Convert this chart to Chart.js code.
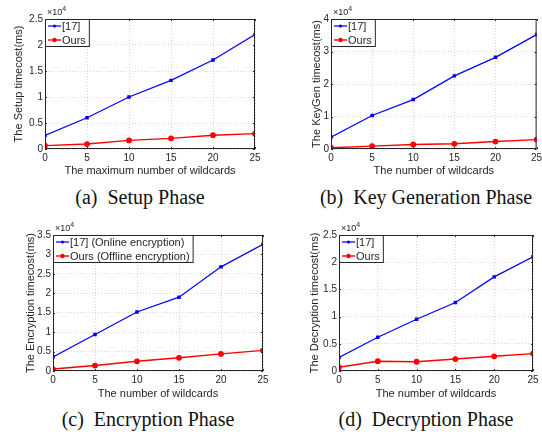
<!DOCTYPE html>
<html>
<head>
<meta charset="utf-8">
<script src="https://cdn.jsdelivr.net/npm/chart.js@4.4.1/dist/chart.umd.min.js"></script>
<style>
  body { margin: 0; background: #fff; width: 542px; height: 432px; position: relative; overflow: hidden; }
  canvas { position: absolute; }
  .cap { position: absolute; font-family: "Liberation Serif", "Times New Roman", serif; font-size: 20px; color: #111; white-space: nowrap; transform: translateX(-50%); }
</style>
</head>
<body>
<canvas id="setup-chart" style="left:0;top:0" width="271" height="185"></canvas>
<canvas id="keygen-chart" style="left:271px;top:0" width="271" height="185"></canvas>
<canvas id="enc-chart" style="left:0;top:216px" width="271" height="185"></canvas>
<canvas id="dec-chart" style="left:271px;top:216px" width="271" height="185"></canvas>
<div class="cap" style="left:140px;top:186px">(a)&nbsp; Setup Phase</div>
<div class="cap" style="left:426px;top:186px">(b)&nbsp; Key Generation Phase</div>
<div class="cap" style="left:148px;top:408px">(c)&nbsp; Encryption Phase</div>
<div class="cap" style="left:426px;top:408px">(d)&nbsp; Decryption Phase</div>
<script>
// wildcards on the x axis
const wildcards = [0, 5, 10, 15, 20, 25];

// time costs (ms)
const setupRef = [2600, 6000, 10000, 13200, 17100, 22000];
const setupOurs = [650, 950, 1650, 2050, 2650, 2950];
const keygenRef = [3600, 10300, 15200, 22500, 28200, 35200];
const keygenOurs = [400, 900, 1400, 1600, 2300, 2900];
const encRef = [3600, 9400, 15200, 19000, 26800, 32600];
const encOurs = [500, 1400, 2500, 3400, 4400, 5300];
const decRef = [2500, 6200, 9500, 12600, 17300, 21000];
const decOurs = [700, 1800, 1700, 2200, 2700, 3200];

const textColor = "#262626";
const gridColor = "rgba(235,150,175,0.5)";

const toPoints = (vals) => vals.map((v, i) => ({ x: wildcards[i], y: v }));

// box around plot + inward ticks (matlab style)
const boxPlugin = {
  id: "box",
  afterDatasetsDraw(chart) {
    const { ctx, chartArea: a, scales } = chart;
    ctx.save();
    ctx.strokeStyle = "#262626";
    ctx.lineWidth = 1;
    ctx.strokeRect(a.left + 0.5, a.top + 0.5, a.right - a.left - 1, a.bottom - a.top - 1);
    scales.x.ticks.forEach((t) => {
      const px = Math.round(scales.x.getPixelForValue(t.value)) + 0.5;
      ctx.beginPath();
      ctx.moveTo(px, a.bottom); ctx.lineTo(px, a.bottom - 2);
      ctx.moveTo(px, a.top); ctx.lineTo(px, a.top + 2);
      ctx.stroke();
    });
    scales.y.ticks.forEach((t) => {
      const py = Math.round(scales.y.getPixelForValue(t.value)) + 0.5;
      ctx.beginPath();
      ctx.moveTo(a.left, py); ctx.lineTo(a.left + 2, py);
      ctx.moveTo(a.right, py); ctx.lineTo(a.right - 2, py);
      ctx.stroke();
    });
    // x10^4 exponent label
    ctx.fillStyle = textColor;
    ctx.font = "9px 'Liberation Sans', Arial, sans-serif";
    ctx.textBaseline = "alphabetic";
    ctx.fillText("\u00d710", a.left + 2, a.top - 4);
    const w = ctx.measureText("\u00d710").width;
    ctx.font = "7px 'Liberation Sans', Arial, sans-serif";
    ctx.fillText("4", a.left + 2 + w, a.top - 8);
    ctx.restore();
  },
};

// legend box in top-left corner of the plot
const legendBoxPlugin = {
  id: "legendBox",
  afterDraw(chart) {
    const { ctx, chartArea: a } = chart;
    const sets = chart.data.datasets;
    ctx.save();
    ctx.font = "11px 'Liberation Sans', Arial, sans-serif";
    const textW = Math.max(...sets.map((d) => ctx.measureText(d.label).width));
    const rowH = 13.5;
    const w = 17 + textW + 3;
    const h = 27;
    const x = a.left, y = a.top;
    ctx.fillStyle = "#fff";
    ctx.fillRect(x, y, w, h);
    ctx.strokeStyle = "#262626";
    ctx.lineWidth = 1;
    ctx.strokeRect(x + 0.5, y + 0.5, w, h);
    sets.forEach((d, i) => {
      const cy = Math.round(y + 7 + i * rowH);
      ctx.strokeStyle = d.borderColor;
      ctx.lineWidth = d.borderWidth;
      ctx.beginPath();
      ctx.moveTo(x + 3, cy); ctx.lineTo(x + 16, cy);
      ctx.stroke();
      ctx.fillStyle = d.borderColor;
      ctx.beginPath();
      ctx.arc(x + 9.5, cy, d.pointRadius, 0, Math.PI * 2);
      ctx.fill();
      ctx.fillStyle = textColor;
      ctx.textBaseline = "middle";
      ctx.fillText(d.label, x + 17, cy + 0.5);
    });
    ctx.restore();
  },
};

function makeChart(id, opts) {
  new Chart(document.getElementById(id), {
    type: "line",
    data: {
      datasets: [
        {
          label: opts.refLabel,
          data: toPoints(opts.ref),
          borderColor: "#0000ff",
          backgroundColor: "#0000ff",
          borderWidth: 1.2,
          pointRadius: 1.6,
          pointStyle: "rect",
        },
        {
          label: opts.oursLabel,
          data: toPoints(opts.ours),
          borderColor: "#ff0000",
          backgroundColor: "#ff0000",
          borderWidth: 1.4,
          pointRadius: 2.2,
        },
      ],
    },
    options: {
      responsive: false,
      animation: false,
      layout: { padding: { top: 19, right: opts.padRight, left: opts.padLeft, bottom: opts.padBottom } },
      plugins: { legend: { display: false }, tooltip: { enabled: false } },
      scales: {
        x: {
          type: "linear",
          min: 0,
          max: 25,
          ticks: { stepSize: 5, color: textColor, font: { size: 10, family: "'Liberation Sans', Arial" }, padding: 3, maxRotation: 0 },
          grid: { color: gridColor, drawTicks: false },
          border: { dash: [1, 2], display: false },
          title: { display: true, text: opts.xTitle, color: textColor, font: { size: 11, family: "'Liberation Sans', Arial" }, padding: { top: 0, bottom: 0 } },
          afterFit(scale) {
            scale.height = opts.xHeight;
            scale.paddingLeft = 0;
            scale.paddingRight = 0;
          },
        },
        y: {
          min: 0,
          max: opts.yMax,
          ticks: { stepSize: opts.yStep, color: textColor, font: { size: 10, family: "'Liberation Sans', Arial" }, padding: 2, callback: (v) => v / 10000 },
          grid: { color: gridColor, drawTicks: false },
          border: { dash: [1, 2], display: false },
          title: { display: true, text: opts.yTitle, color: textColor, font: { size: 11, family: "'Liberation Sans', Arial" }, padding: { top: 0, bottom: 0 } },
          afterFit(scale) {
            scale.width = opts.yWidth;
            scale.paddingTop = 0;
            scale.paddingBottom = 0;
          },
        },
      },
    },
    plugins: [boxPlugin, legendBoxPlugin],
  });
}

makeChart("setup-chart", {
  ref: setupRef, ours: setupOurs, refLabel: "[17]", oursLabel: "Ours",
  yMax: 25000, yStep: 5000, xTitle: "The maximum number of wildcards", yTitle: "The Setup timecost(ms)",
  padLeft: 12, yWidth: 33, xHeight: 29, padBottom: 7, padRight: 16,
});
makeChart("keygen-chart", {
  ref: keygenRef, ours: keygenOurs, refLabel: "[17]", oursLabel: "Ours",
  yMax: 40000, yStep: 10000, xTitle: "The number of wildcards", yTitle: "The KeyGen timecost(ms)",
  padLeft: 39, yWidth: 21, xHeight: 29, padBottom: 7, padRight: 2,
});
makeChart("enc-chart", {
  ref: encRef, ours: encOurs, refLabel: "[17] (Online encryption)", oursLabel: "Ours (Offline encryption)",
  yMax: 35000, yStep: 5000, xTitle: "The number of wildcards", yTitle: "The Encryption timecost(ms)",
  padLeft: 24, yWidth: 29, xHeight: 30, padBottom: 0, padRight: 8,
});
makeChart("dec-chart", {
  ref: decRef, ours: decOurs, refLabel: "[17]", oursLabel: "Ours",
  yMax: 25000, yStep: 5000, xTitle: "The number of wildcards", yTitle: "The Decryption timecost(ms)",
  padLeft: 37, yWidth: 31, xHeight: 30, padBottom: 0, padRight: 9,
});
</script>
</body>
</html>
